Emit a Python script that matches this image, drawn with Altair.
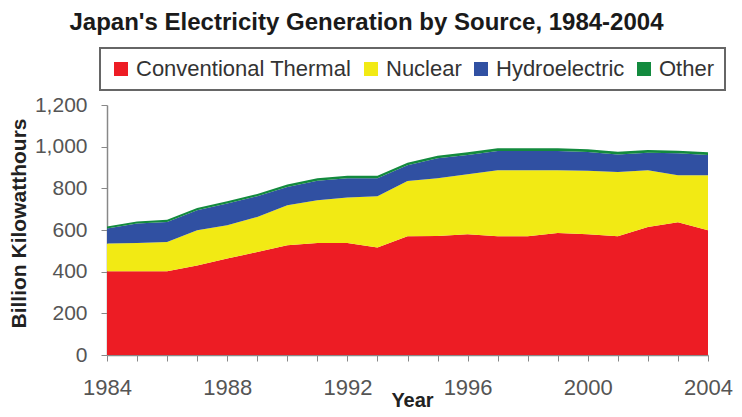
import altair as alt
import pandas as pd

years = list(range(1984, 2005))
sources = ["Conventional Thermal", "Nuclear", "Hydroelectric", "Other"]
colors = ["#ED1C24", "#F2EA14", "#3050A2", "#138A3E"]

thermal = [402, 402, 402, 430, 463, 494, 527, 538, 538, 516, 570, 571, 580, 570, 570, 586, 580, 570, 615, 637, 599]
nuclear = [133, 136, 141, 169, 160, 169, 192, 205, 218, 246, 265, 277, 288, 317, 317, 301, 304, 309, 272, 226, 264]
hydro = [72, 93, 96, 96, 104, 99, 88, 93, 92, 86, 76, 96, 92, 92, 92, 92, 91, 84, 84, 105, 97]
other = [10, 10, 10, 11, 11, 11, 12, 12, 12, 12, 12, 13, 13, 13, 13, 13, 13, 13, 13, 13, 13]

series = [thermal, nuclear, hydro, other]
rows = []
for i, (name, vals) in enumerate(zip(sources, series)):
    for y, v in zip(years, vals):
        rows.append({"year": y, "source": name, "value": v, "ord": i})
df = pd.DataFrame(rows)

FONT = "Liberation Sans"

chart = alt.Chart(df).mark_area(interpolate="linear", opacity=1).encode(
    x=alt.X(
        "year:Q",
        title="Year",
        scale=alt.Scale(domain=[1984, 2004], nice=False, zero=False),
        axis=alt.Axis(
            values=years,
            format="d",
            labelExpr="datum.value % 4 == 0 ? datum.label : ''",
            labelOverlap=False,
            labelFlush=False,
            labelFontSize=22,
            labelPadding=16,
            titleX=305,
            titleY=51,
            titleBaseline="alphabetic",
            titleFontSize=20,
        ),
    ),
    y=alt.Y(
        "value:Q",
        stack="zero",
        title="Billion Kilowatthours",
        scale=alt.Scale(domain=[0, 1200], nice=False),
        axis=alt.Axis(
            values=[0, 200, 400, 600, 800, 1000, 1200],
            format=",d",
            labelFontSize=21,
            labelPadding=14,
            titleX=-82,
            titleY=118,
            titleAngle=270,
            titleAlign="center",
            titleBaseline="alphabetic",
            titleFontSize=21,
        ),
    ),
    color=alt.Color(
        "source:N",
        scale=alt.Scale(domain=sources, range=colors),
        legend=alt.Legend(
            title=None,
            orient="none",
            legendX=-7,
            legendY=-57,
            direction="horizontal",
            symbolType="square",
            symbolSize=196,
            symbolStrokeWidth=0,
            symbolOpacity=1,
            labelFontSize=22,
            labelFont=FONT,
            labelColor="#333333",
            labelLimit=400,
            labelOffset=4,
            columnPadding=8,
            padding=10,
            strokeColor="#666666",
            fillColor="white",
        ),
    ),
    order=alt.Order("ord:Q", sort="ascending"),
).properties(
    width=601,
    height=250,
    autosize=alt.AutoSizeParams(type="none"),
    padding={"left": 99, "top": 97, "right": 26, "bottom": 54},
    title=alt.TitleParams(
        "Japan's Electricity Generation by Source, 1984-2004",
        font=FONT,
        fontSize=24,
        fontWeight="bold",
        color="#1a1a1a",
        anchor="middle",
        frame="group",
        dx=-41,
        offset=12,
    ),
).configure_view(
    stroke="transparent"
).configure_axis(
    grid=False,
    domainColor="#888888",
    domainWidth=1.5,
    tickColor="#888888",
    tickSize=6,
    labelFont=FONT,
    labelColor="#555555",
    titleFont=FONT,
    titleFontWeight="bold",
    titleColor="#222222",
).configure_legend(
    strokeWidth=2
)

chart.save("out.html", embed_options={"renderer": "svg", "actions": False})
